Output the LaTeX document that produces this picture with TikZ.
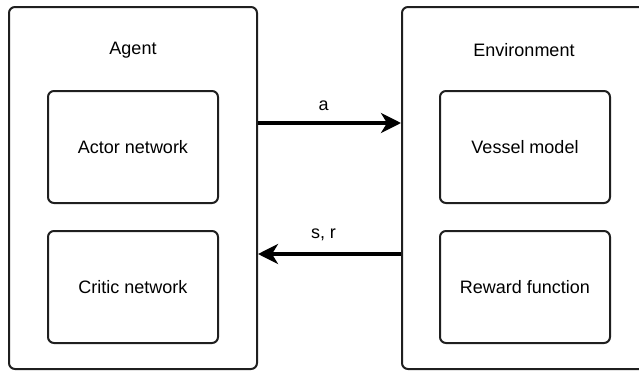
\documentclass[tikz,border=0pt]{standalone}
\usepackage{fontspec}
\setmainfont{Liberation Sans}
\usetikzlibrary{arrows.meta}
\begin{document}
\begin{tikzpicture}[x=1pt,y=-1pt,
  outerbox/.style={draw=black!88, line width=2pt, rounded corners=6pt, minimum width=248pt, minimum height=362pt, inner sep=0pt},
  innerbox/.style={draw=black!88, line width=2pt, rounded corners=6pt, minimum width=170pt, minimum height=112pt, inner sep=0pt, font=\fontsize{18}{22}\selectfont},
  title/.style={font=\fontsize{18}{22}\selectfont, inner sep=0pt},
  flow/.style={draw=black, line width=3.5pt, -{Stealth[length=20pt, width=20pt, inset=6pt]}},
  lbl/.style={font=\fontsize{18}{22}\selectfont, inner sep=0pt, xshift=-6pt}
]
\useasboundingbox (0,0) rectangle (639,372);
\node[outerbox] (agent) at (133,188) {};
\node[outerbox, minimum width=246pt] (env) at (525,188) {};
\node[title] (agentlbl) at (133,50) {Agent};
\node[title] (envlbl) at (524,50) {Environment};
\node[innerbox] (actor) at (133,147) {Actor network};
\node[innerbox] (critic) at (133,287) {Critic network};
\node[innerbox] (vessel) at (525,147) {Vessel model};
\node[innerbox] (reward) at (525,287) {Reward function};
\coordinate (ya) at (0,123);
\coordinate (ys) at (0,254);
\draw[flow] (agent.east |- ya) -- node[lbl, above=11pt] {a} (env.west |- ya);
\draw[flow] (env.west |- ys) -- node[lbl, above=11pt] {s, r} (agent.east |- ys);
\end{tikzpicture}
\end{document}
